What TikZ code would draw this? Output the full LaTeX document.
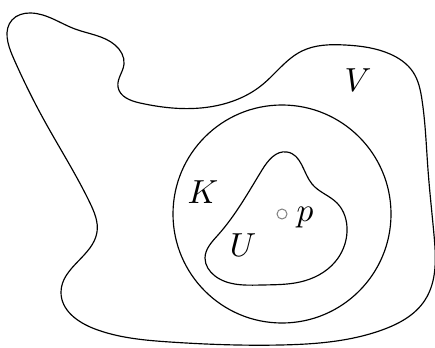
\documentclass[tikz,border=0pt]{standalone}
\usetikzlibrary{hobby}
\tikzset{
  curve/.style={draw=black, line width=0.35pt},
  lab/.style={inner sep=0pt, font=\normalsize},
}
\begin{document}
\begin{tikzpicture}[x=0.3pt, y=-0.3pt]
\useasboundingbox (0,0) rectangle (435,347);
\begin{scope}
\clip (0,0) rectangle (435,347);
% V
\draw[curve, use Hobby shortcut, closed=true]
 (30,13) .. (75,29) .. (115,45) .. (124,64) .. (118,87) .. (140,103) .. (215,106)
 .. (262,85) .. (302,51) .. (345,45) .. (390,54) .. (413,72) .. (422,100)
 .. (428,170) .. (434,235) .. (425,300) .. (382,330) .. (280,345) .. (170,342) .. (95,329)
 .. (61,292) .. (97,232) .. (90,203) .. (44,120) .. (13,57) .. (12,20);
\end{scope}
% K
\node[curve, circle, minimum size=218*0.3pt, inner sep=0pt] (K) at (282,214) {};
% U
\draw[curve, use Hobby shortcut, closed=true]
 (287,152) .. (312,184) .. (337,203) .. (347,232) .. (335,262)
 .. (300,282) .. (262,285) .. (215,276) .. (205,258) .. (218,235) .. (262,170);
\node[draw=gray, circle, inner sep=0pt, minimum size=3pt, line width=0.3pt] (pt) at (282,214) {};
\node[lab] (lV) at (358,80) {$V$};
\node[lab] (lK) at (203,192) {$K$};
\node[lab] (lp) at (305,218) {$p$};
\node[lab] (lU) at (243,245) {$U$};
\end{tikzpicture}
\end{document}
